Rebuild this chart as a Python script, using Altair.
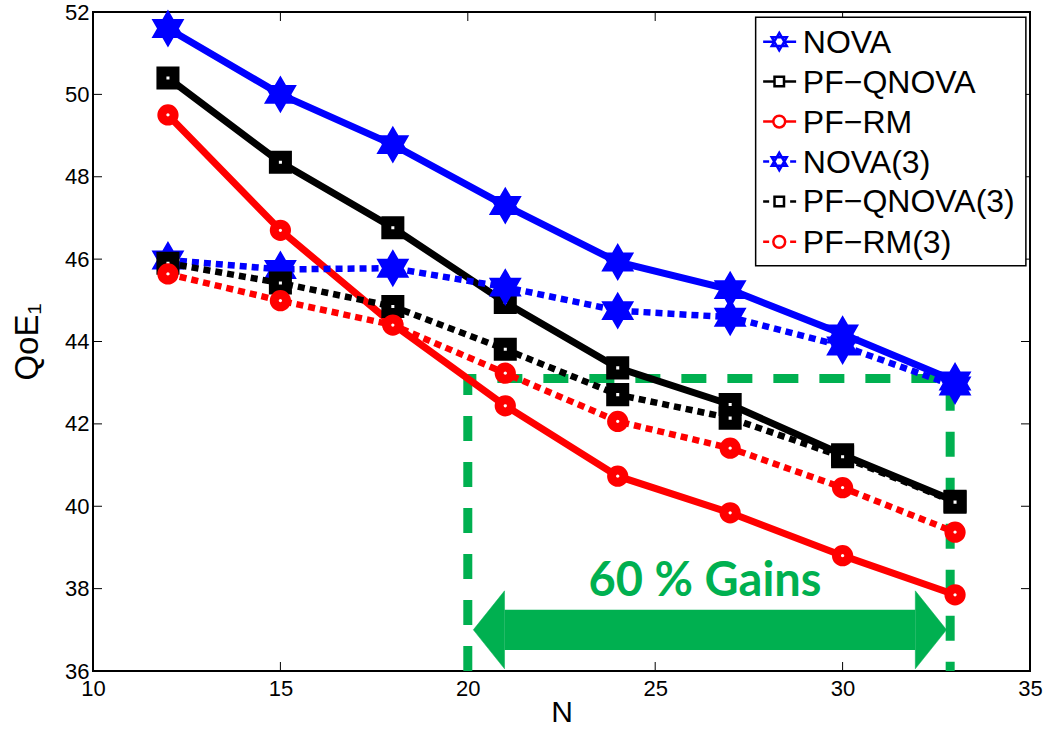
import altair as alt
import pandas as pd

# ---------------- data ----------------
N = [12, 15, 18, 21, 24, 27, 30, 33]
series_names = ["NOVA", "PF−QNOVA", "PF−RM", "NOVA(3)", "PF−QNOVA(3)", "PF−RM(3)"]
nova = [51.6, 50.0, 48.78, 47.3, 45.93, 45.26, 44.18, 43.04]
pf_qnova = [50.4, 48.35, 46.76, 44.95, 43.36, 42.47, 41.25, 40.12]
pf_rm = [49.5, 46.7, 44.42, 42.44, 40.73, 39.84, 38.8, 37.85]
nova3 = [45.98, 45.75, 45.78, 45.32, 44.75, 44.59, 43.89, 42.92]
pf_qnova3 = [45.9, 45.42, 44.85, 43.81, 42.71, 42.14, 41.2, 40.1]
pf_rm3 = [45.64, 44.99, 44.4, 43.23, 42.06, 41.41, 40.45, 39.37]
values = [nova, pf_qnova, pf_rm, nova3, pf_qnova3, pf_rm3]

colors = ["#0000FF", "#000000", "#FF0000", "#0000FF", "#000000", "#FF0000"]
dashed = [False, False, False, True, True, True]
markers = ["star", "square", "circle", "star", "square", "circle"]

x_ticks = [10, 15, 20, 25, 30, 35]
y_ticks = [36, 38, 40, 42, 44, 46, 48, 50, 52]

# annotation (green dashed box, arrow, text)
box_x = [20.0, 20.0, 32.87, 32.87]
box_y = [36.0, 43.1, 43.1, 36.0]
shaft = dict(x=20.98, x2=31.94, y=36.51, y2=37.49)
head_left_x, head_right_x, head_y = 20.98, 31.94, 37.0
gain_text = "60 % Gains"
gain_x = 26.33
gain_y = 38.15
GREEN = "#00B050"

# legend layout (data units)
leg_box = dict(x=27.68, x2=34.89, y=51.87, y2=45.84)
leg_rows = [51.28, 50.31, 49.34, 48.37, 47.40, 46.42]
leg_line = (27.88, 28.76)
leg_marker_x = 28.31
leg_text_x = 28.94

STAR = "M 0 -1 L 0.866 0.5 L -0.866 0.5 Z M 0 1 L -0.866 -0.5 L 0.866 -0.5 Z"
HEAD_L = "M 0 -1 L -0.8 0 L 0 1 Z"
HEAD_R = "M 0 -1 L 0.8 0 L 0 1 Z"

W, H = 937, 659
xs = alt.Scale(domain=[10, 35], nice=False, zero=False)
ys = alt.Scale(domain=[36, 52], nice=False, zero=False)
FONT = "Liberation Sans"

x_axis = alt.Axis(values=x_ticks, ticks=False, domain=False, grid=False,
                  labelFont=FONT, labelFontSize=22, labelColor="black",
                  labelPadding=7, title="N", titleFont=FONT, titleFontSize=30,
                  titleFontWeight="normal", titleColor="black", titlePadding=-2,
                  labelFlush=False)
y_axis = alt.Axis(values=y_ticks, ticks=False, domain=False, grid=False,
                  labelFont=FONT, labelFontSize=22, labelColor="black",
                  labelPadding=4, title="QoE₁", titleFont=FONT, titleFontSize=33,
                  titleFontWeight="normal", titleColor="black", titlePadding=20,
                  labelFlush=False)


def X(f="x"):
    return alt.X(f"{f}:Q", scale=xs, axis=x_axis)


def Y(f="y"):
    return alt.Y(f"{f}:Q", scale=ys, axis=y_axis)


layers = []

# inward ticks
xt = pd.DataFrame({"x": x_ticks[1:-1]})
yt = pd.DataFrame({"y": y_ticks[1:-1]})
tick_style = dict(color="black", strokeWidth=1)
layers.append(alt.Chart(xt).mark_rule(**tick_style).encode(x=X(), y=alt.value(H), y2=alt.value(H - 9)))
layers.append(alt.Chart(xt).mark_rule(**tick_style).encode(x=X(), y=alt.value(0), y2=alt.value(9)))
layers.append(alt.Chart(yt).mark_rule(**tick_style).encode(y=Y(), x=alt.value(0), x2=alt.value(9)))
layers.append(alt.Chart(yt).mark_rule(**tick_style).encode(y=Y(), x=alt.value(W), x2=alt.value(W - 9)))

# green annotation
box_df = pd.DataFrame({"x": box_x, "y": box_y, "o": range(4)})
layers.append(alt.Chart(box_df).mark_line(color=GREEN, strokeWidth=9, strokeDash=[25, 21], strokeCap="butt")
              .encode(x=X(), y=Y(), order="o:O"))
shaft_df = pd.DataFrame([shaft])
layers.append(alt.Chart(shaft_df).mark_rect(color=GREEN, opacity=1)
              .encode(x=X(), x2="x2:Q", y=Y(), y2="y2:Q"))
hl = pd.DataFrame({"x": [head_left_x], "y": [head_y]})
hr = pd.DataFrame({"x": [head_right_x], "y": [head_y]})
layers.append(alt.Chart(hl).mark_point(shape=HEAD_L, size=78 * 78, filled=True, fill=GREEN,
                                        stroke=GREEN, strokeWidth=0.5, opacity=1)
              .encode(x=X(), y=Y()))
layers.append(alt.Chart(hr).mark_point(shape=HEAD_R, size=78 * 78, filled=True, fill=GREEN,
                                        stroke=GREEN, strokeWidth=0.5, opacity=1)
              .encode(x=X(), y=Y()))
text_df = pd.DataFrame({"x": [gain_x], "y": [gain_y], "t": [gain_text]})
layers.append(alt.Chart(text_df).mark_text(font="Lato", fontWeight="bold", fontSize=47, color=GREEN,
                                           align="center", baseline="middle")
              .encode(x=X(), y=Y(), text="t:N"))

# series
for name, vals, col, dsh, mk in zip(series_names, values, colors, dashed, markers):
    df = pd.DataFrame({"x": N, "y": vals, "s": name})
    lkw = dict(color=col, strokeWidth=7, strokeCap="butt")
    if dsh:
        lkw["strokeDash"] = [7, 5]
        lkw["strokeWidth"] = 6.5
    layers.append(alt.Chart(df).mark_line(**lkw).encode(x=X(), y=Y()))
    if mk == "star":
        pkw = dict(shape=STAR, size=1150, fill=col, stroke=col, strokeWidth=2, filled=True, opacity=1)
    elif mk == "square":
        pkw = dict(shape="square", size=170, fill="white", stroke=col, strokeWidth=10, opacity=1)
    else:
        pkw = dict(shape="circle", size=150, fill="white", stroke=col, strokeWidth=9, opacity=1)
    layers.append(alt.Chart(df).mark_point(**pkw).encode(x=X(), y=Y()))

# legend
lb = pd.DataFrame([leg_box])
layers.append(alt.Chart(lb).mark_rect(fill="white", stroke="black", strokeWidth=1.5)
              .encode(x=X(), x2="x2:Q", y=Y(), y2="y2:Q"))
for name, col, dsh, mk, ry in zip(series_names, colors, dashed, markers, leg_rows):
    ldf = pd.DataFrame({"x": list(leg_line), "y": [ry, ry]})
    lkw = dict(color=col, strokeWidth=2.5)
    if dsh:
        lkw["strokeDash"] = [6, 21, 6]
    layers.append(alt.Chart(ldf).mark_line(**lkw).encode(x=X(), y=Y()))
    pdf = pd.DataFrame({"x": [leg_marker_x], "y": [ry], "t": [name], "tx": [leg_text_x]})
    if mk == "star":
        pkw = dict(shape=STAR, size=300, fill="white", stroke=col, strokeWidth=2.5, opacity=1)
    elif mk == "square":
        pkw = dict(shape="square", size=90, fill="white", stroke=col, strokeWidth=2.5, opacity=1)
    else:
        pkw = dict(shape="circle", size=140, fill="white", stroke=col, strokeWidth=2.5, opacity=1)
    layers.append(alt.Chart(pdf).mark_point(**pkw).encode(x=X(), y=Y()))
    layers.append(alt.Chart(pdf).mark_text(font=FONT, fontSize=32, color="black", align="left",
                                           baseline="middle", dy=1)
                  .encode(x=X("tx"), y=Y(), text="t:N"))

chart = alt.layer(*layers).properties(
    width=W, height=H,
    autosize="none",
    padding={"left": 93, "top": 12, "right": 17, "bottom": 59},
    background="white",
).configure_view(stroke="black", strokeWidth=2)

chart.save("out.html", embed_options={"renderer": "svg", "actions": False})
